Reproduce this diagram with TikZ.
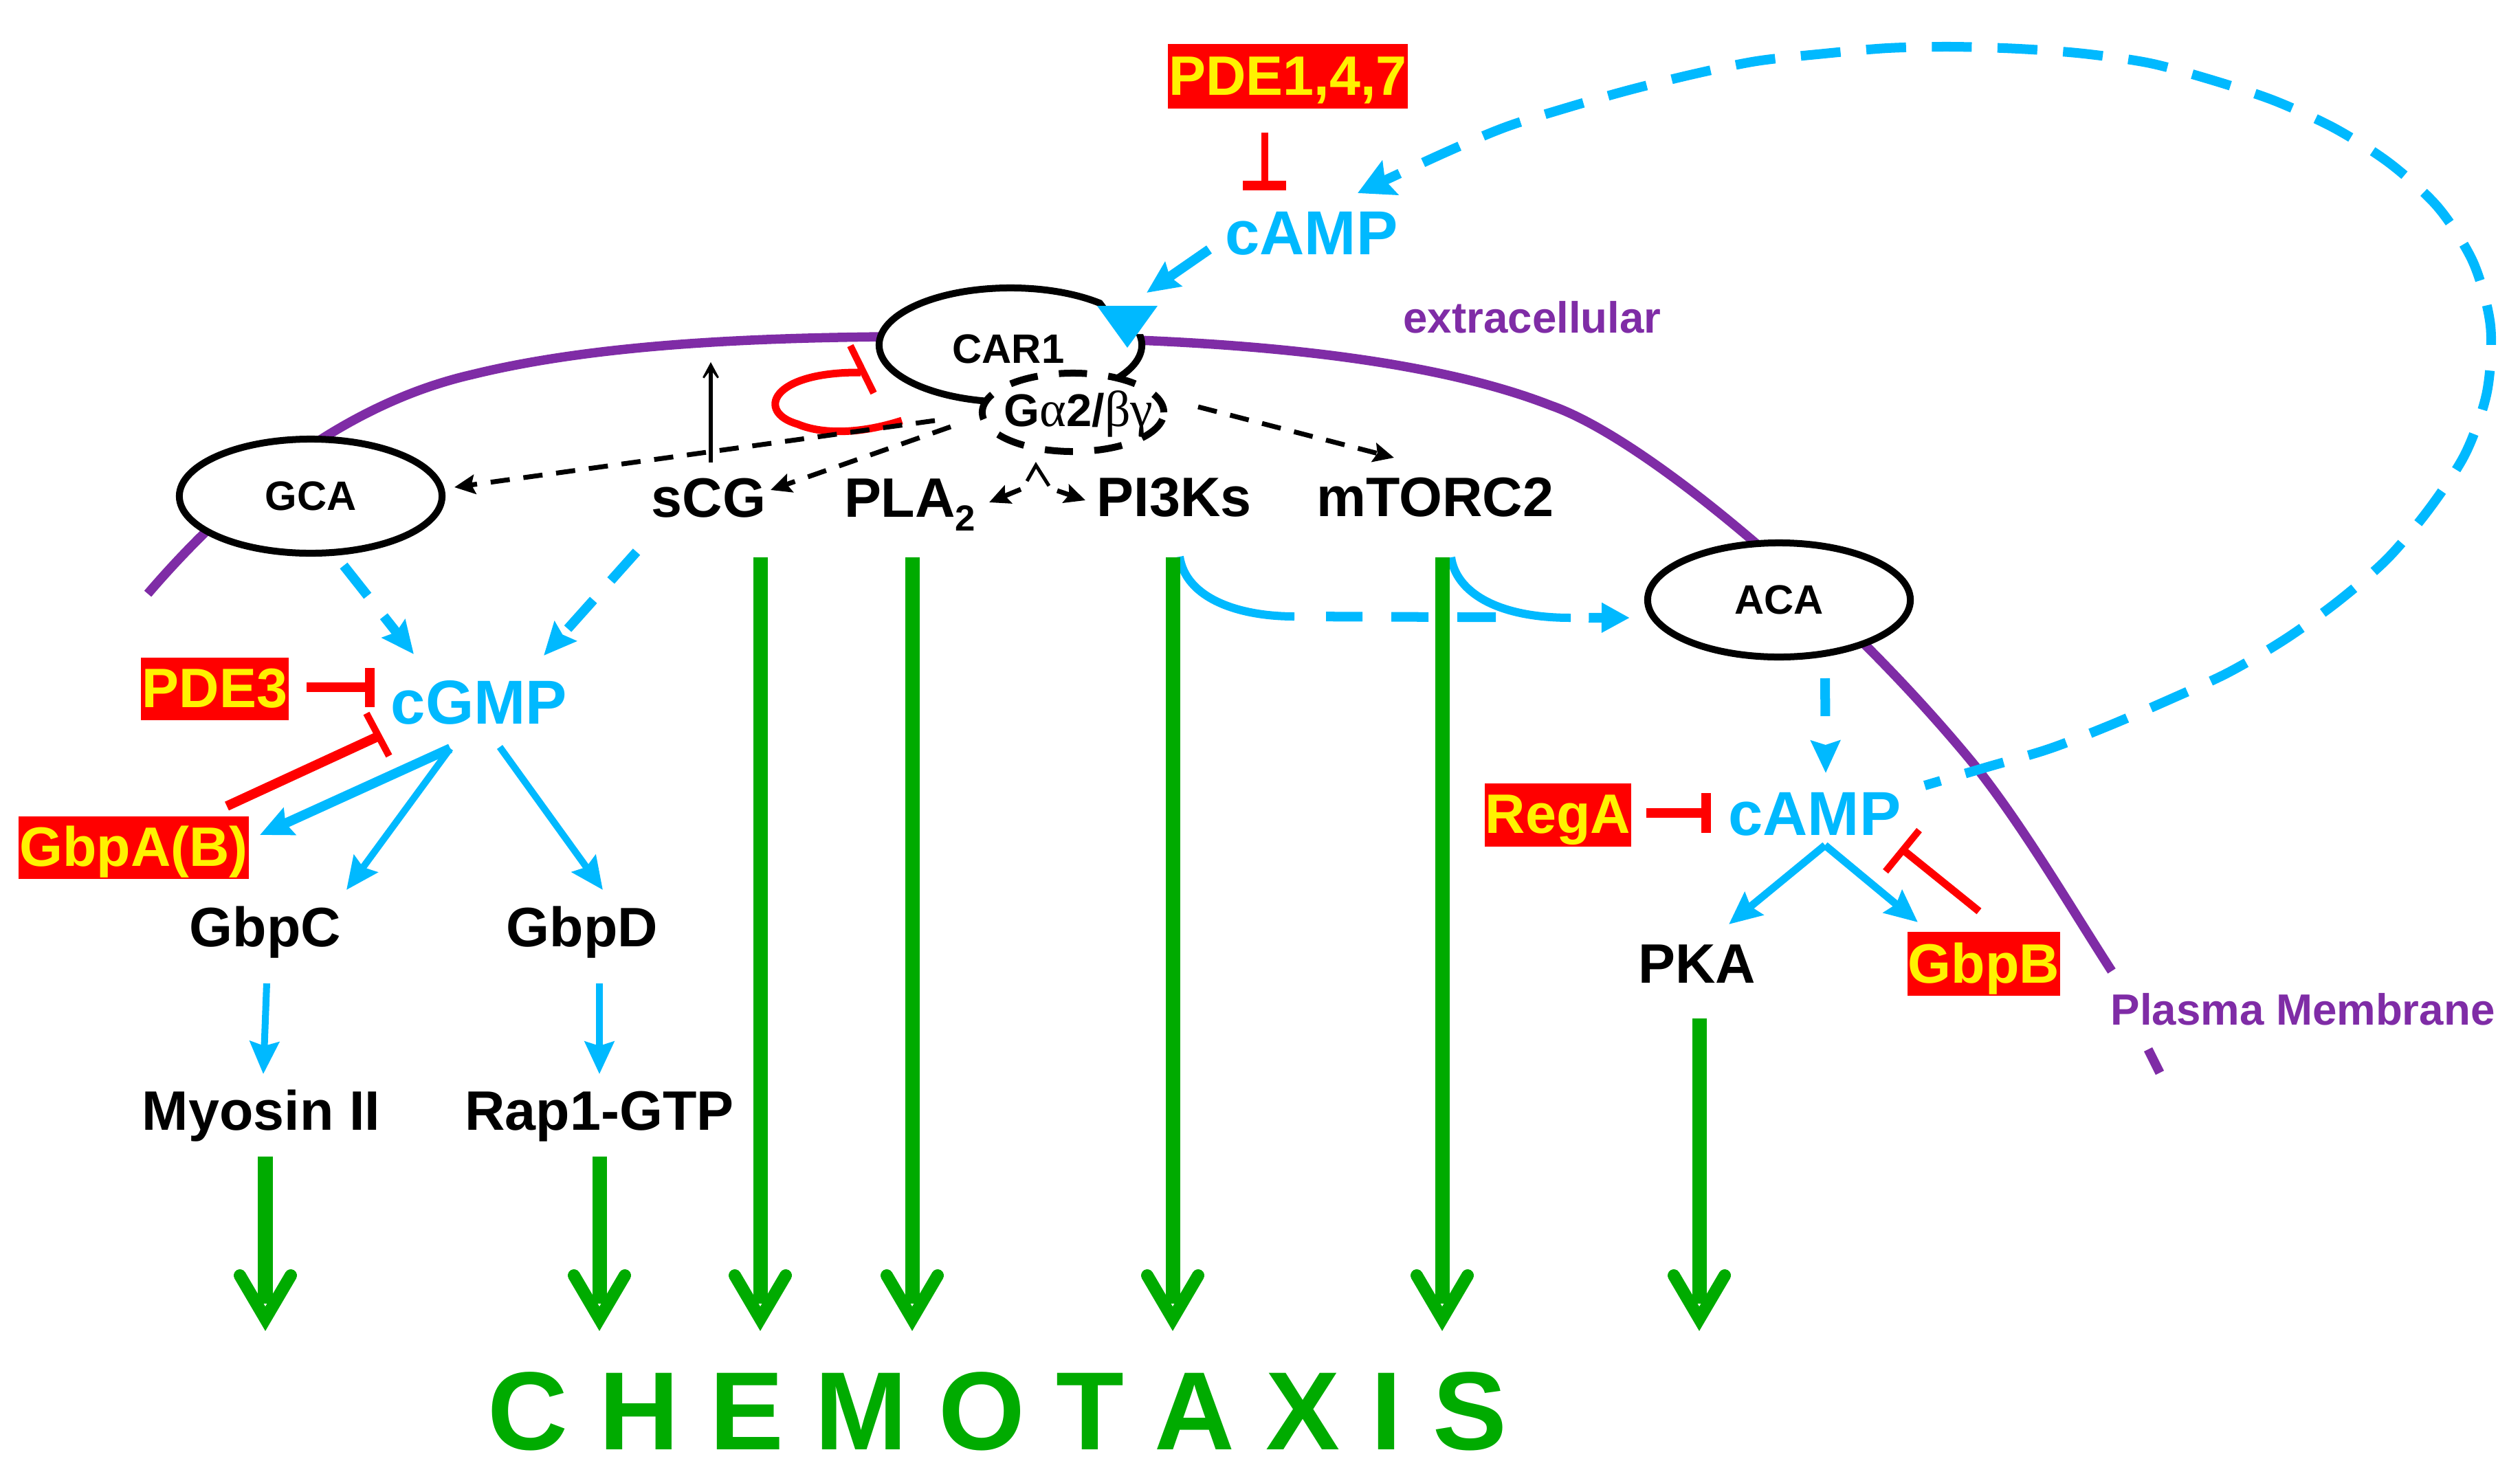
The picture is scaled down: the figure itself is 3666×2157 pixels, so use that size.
\documentclass[tikz,border=0pt]{standalone}
\usepackage{fontspec}
\setmainfont{Liberation Sans}
\newfontfamily\grk{Liberation Serif}
\usetikzlibrary{arrows.meta,shapes.geometric,calc}
\definecolor{sky}{HTML}{00B9FF}
\definecolor{memb}{HTML}{7F2CA6}
\definecolor{grn}{HTML}{00AB00}
\tikzset{
  lbl/.style={inner sep=0pt,outer sep=0pt,anchor=base,font=\bfseries\fontsize{23}{26}\selectfont},
  bluetxt/.style={lbl,text=sky,font=\bfseries\fontsize{25.7}{30}\selectfont},
  purptxt/.style={lbl,text=memb,font=\bfseries\fontsize{18.1}{22}\selectfont},
  redbox/.style={fill=red,text=yellow,inner sep=0pt,outer sep=0pt,font=\bfseries\fontsize{23}{26}\selectfont},
  oval/.style={ellipse,draw=black,fill=white,line width=0.10cm,inner sep=0pt,outer sep=0pt,minimum width=3.82cm,minimum height=1.66cm,font=\bfseries\fontsize{17}{20}\selectfont},
  membrane/.style={draw=memb,line width=0.135cm},
  bhead/.style={-{Stealth[length=0.47cm,width=0.42cm,inset=0.06cm]}},
  sky thin/.style={draw=sky,line width=0.10cm,bhead},
  sky thick/.style={draw=sky,line width=0.14cm,bhead},
  sky dash/.style={draw=sky,line width=0.14cm,bhead,dash pattern=on 0.56cm off 0.38cm},
  kdash/.style={draw=black,line width=0.07cm,dash pattern=on 0.28cm off 0.20cm,-{Stealth[length=0.30cm,width=0.28cm,inset=0.05cm]}},
  tbar/.style={draw=red,line width=0.14cm},
  tcap/.style={draw=red,line width=0.10cm},
  gstem/.style={draw=grn,line width=0.21cm,shorten >=0.40cm},
  gchev/.style={draw=grn,line width=0.18cm,line cap=round,miter limit=10},
}
\newcommand\chev[1]{\draw[gchev] ([shift={(-37,-81)}]#1) -- ([shift={(0,-18)}]#1) -- ([shift={(37,-81)}]#1);}
\begin{document}
\begin{tikzpicture}[x=0.01cm,y=-0.01cm]
\useasboundingbox (0,0) rectangle (3666,2157);
% membrane
\draw[membrane] (215,864) .. controls (330,730) and (490,590) .. (687,545) .. controls (870,500) and (1100,492) .. (1285,490);
\draw[membrane] (1655,495) .. controls (1850,503) and (2090,525) .. (2256,590) .. controls (2400,640) and (2690,890) .. (2873,1114) .. controls (2945,1205) and (3012,1320) .. (3072,1413);
\draw[membrane] (3125,1527) -- (3142,1561);
% ovals
\node[oval] (car) at (1470,502) {};
\node[lbl,font=\bfseries\fontsize{17}{20}\selectfont] (cartxt) at (1467,528) {CAR1};
\fill[white] (1598,430) -- (1682,430) -- (1682,486) -- (1640,486) -- cycle;
\fill[sky] (1596,445) -- (1684,445) -- (1640,506) -- cycle;
\node[oval] (gca) at (452,722) {GCA};
\node[oval] (aca) at (2588,873) {ACA};
\node[ellipse,draw=black,fill=white,line width=0.10cm,inner sep=0pt,minimum width=2.64cm,minimum height=1.14cm,dash pattern=on 0.41cm off 0.31cm,dash phase=0.1cm] (ga) at (1561,600) {};
\node[lbl,font=\fontsize{19}{22}\selectfont] (gatxt) at (1569,620) {\textbf{G}{\grk\fontsize{21}{22}\selectfont α}\textbf{2/}{\grk\fontsize{21}{22}\selectfont βγ}};
% labels
\node[redbox,minimum width=3.49cm,text height=0.74cm,text depth=0.20cm] (pdeA) at (1873.5,111) {PDE1,4,7};
\node[redbox,minimum width=2.15cm,text height=0.72cm,text depth=0.19cm] (pdeB) at (312.5,1002.5) {PDE3};
\node[redbox,minimum width=3.35cm,text height=0.72cm,text depth=0.19cm] (gbpa) at (194.5,1233.5) {GbpA(B)};
\node[redbox,minimum width=2.13cm,text height=0.72cm,text depth=0.20cm] (rega) at (2266.5,1186) {RegA};
\node[redbox,minimum width=2.22cm,text height=0.74cm,text depth=0.19cm] (gbpb) at (2886,1402.5) {GbpB};
\node[bluetxt] (campA) at (1908,370) {cAMP};
\node[bluetxt] (cgmp) at (697,1053) {cGMP};
\node[bluetxt] (campB) at (2640,1215) {cAMP};
\node[lbl] (scg) at (1031,752) {sCG};
\node[lbl,anchor=base west] (pla) at (1228,752) {PLA\raisebox{-0.2cm}{\fontsize{15}{17}\selectfont 2}};
\node[lbl] (pik) at (1708,751) {PI3Ks};
\node[lbl] (mtor) at (2088,751) {mTORC2};
\node[lbl] (gbpc) at (386,1377) {GbpC};
\node[lbl] (gbpd) at (847,1377) {GbpD};
\node[lbl] (myo) at (380,1644) {Myosin II};
\node[lbl] (rap) at (872,1644) {Rap1-GTP};
\node[lbl] (pka) at (2469,1430) {PKA};
\node[purptxt] (extra) at (2229,484) {extracellular};
\node[purptxt] (plasma) at (3350,1491) {Plasma Membrane};
\node[lbl,text=grn,font=\bfseries\fontsize{46}{50}\selectfont] (chem) at (1451,2109) {C H E M O T A X I S};
% blue connectors
\coordinate (a1) at (1759,363); \coordinate (a2) at (1668,426);
\draw[sky thick] (a1) -- (a2);
\coordinate (arcS) at (2800,1143); \coordinate (arcE) at (1975,281);
\draw[draw=sky,line width=0.14cm,dash pattern=on 0.58cm off 0.375cm,dash phase=0.34cm,-{Stealth[length=0.52cm,width=0.54cm,inset=0.08cm]}]
  plot[smooth] coordinates {(arcS)(2888,1117)(2980,1090)(3068,1056)(3156,1018)(3241,979)(3323,931)(3400,876)(3473,813)(3535,739)(3587,659)(3618,570)(3623,474)(3598,382)(3547,302)(3477,238)(3397,187)(3310,147)(3223,118)(3128,92)(3031,78)(2937,71)(2838,68)(2746,70)(2654,78)(2555,89)(2463,108)(2370,131)(2282,156)(2190,185)(2100,223)(arcE)};
\coordinate (b1) at (500,823); \coordinate (b2) at (602,952);
\draw[sky dash] (b1) -- (b2);
\coordinate (c1) at (926,803); \coordinate (c2) at (791,954);
\draw[sky dash] (c1) -- (c2);
\coordinate (d0) at (655,1089); \coordinate (d1) at (378,1215); \coordinate (d2) at (504,1295);
\coordinate (d3) at (727,1087); \coordinate (d4) at (877,1295);
\draw[sky thick] (d0) -- (d1);
\draw[sky thin] (d0) -- (d2);
\draw[sky thin] (d3) -- (d4);
\coordinate (e1) at (388,1431); \coordinate (e2) at (383,1563);
\coordinate (e3) at (872,1431); \coordinate (e4) at (872,1563);
\draw[sky thin] (e1) -- (e2);
\draw[sky thin] (e3) -- (e4);
\coordinate (f1) at (1716,810); \coordinate (f2) at (1883,897); \coordinate (f3) at (2371,899);
\coordinate (f4) at (2111,811); \coordinate (f5) at (2285,899);
\draw[draw=sky,line width=0.12cm] (f1) .. controls (1725,870) and (1800,897) .. (f2);
\draw[draw=sky,line width=0.14cm,dash pattern=on 0cm off 0.46cm on 0.53cm off 0.42cm on 0.54cm off 0.42cm on 0.56cm off 1.35cm on 0.3cm off 5cm,-{Triangle[length=0.41cm,width=0.41cm]}] (f2) -- (f3);
\draw[draw=sky,line width=0.12cm] (f4) .. controls (2118,860) and (2175,899) .. (f5);
\coordinate (g1) at (2655,987); \coordinate (g2) at (2656,1125);
\draw[draw=sky,line width=0.14cm,dash pattern=on 0.55cm off 1cm,bhead] (g1) -- (g2);
\coordinate (h0) at (2655,1230); \coordinate (h1) at (2515,1345); \coordinate (h2) at (2790,1342);
\draw[sky thin,line width=0.11cm] (h0) -- (h1);
\draw[sky thin,line width=0.11cm] (h0) -- (h2);
% red inhibitors
\coordinate (p1) at (1840,193); \coordinate (p2) at (1840,269);
\draw[draw=red,line width=0.10cm] (p1) -- (p2);
\draw[draw=red,line width=0.14cm] (1808,269.5) -- (1871,269.5);
\coordinate (q1) at (446,1000); \coordinate (q2) at (538,1000);
\draw[tbar] (q1) -- (q2);
\draw[draw=red,line width=0.14cm] (538,972) -- (538,1029);
\coordinate (r1) at (328,1172); \coordinate (r2) at (549,1072);
\draw[tbar] (330,1173) -- (r2);
\draw[tcap] (533,1038) -- (566,1100);
\coordinate (s1) at (2395,1183); \coordinate (s2) at (2482,1183);
\draw[tbar] (s1) -- (s2);
\draw[draw=red,line width=0.14cm] (2482,1154) -- (2482,1212);
\coordinate (t1) at (2879,1326); \coordinate (t2) at (2770,1238);
\draw[draw=red,line width=0.11cm] (t1) -- (t2);
\draw[tcap] (2792,1208) -- (2743,1268);
\draw[draw=red,line width=0.11cm] (1312,612) .. controls (1250,632) and (1195,632) .. (1160,617) .. controls (1100,600) and (1120,541) .. (1252,542);
\draw[tcap] (1237,503) -- (1271,572);
% black connectors
\coordinate (k0) at (1034,673); \coordinate (k1) at (1034,527);
\draw[draw=black,line width=0.06cm,-{Stealth[length=0.37cm,width=0.40cm,inset=0.26cm]}] (k0) -- (k1);
\coordinate (m1) at (1360,612); \coordinate (m2) at (661,709);
\draw[kdash] (m1) -- (m2);
\coordinate (n1) at (1383,621); \coordinate (n2) at (1121,713);
\draw[kdash] (n1) -- (n2);
\coordinate (o1) at (1743,592); \coordinate (o2) at (2028,666);
\draw[kdash] (o1) -- (o2);
\coordinate (u1) at (1485,712); \coordinate (u2) at (1439,731);
\draw[kdash,dash pattern=on 1cm] (u1) -- (u2);
\coordinate (v1) at (1538,714); \coordinate (v2) at (1579,728);
\draw[kdash,dash pattern=on 1cm] (v1) -- (v2);
\draw[draw=black,line width=0.05cm] (1494,700) -- (1507,677) -- (1526,707);
% green arrows
\foreach \nm/\px/\py in {w1/386/1683,w2/872/1683,w3/1106/811,w4/1327/811,w5/1706/811,w6/2098/811,w7/2472/1482}{
  \coordinate (\nm) at (\px,\py);
  \coordinate (\nm e) at (\px,1937);
  \draw[gstem] (\nm) -- (\nm e);
  \chev{\nm e}
}
\end{tikzpicture}
\end{document}
